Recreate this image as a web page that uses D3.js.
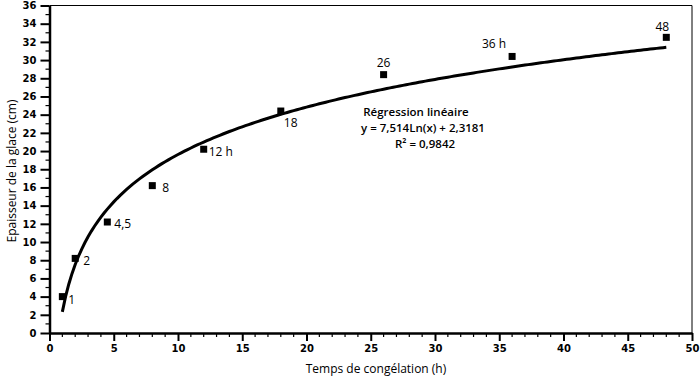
<!DOCTYPE html>
<html><head><meta charset="utf-8">
<script src="https://cdn.jsdelivr.net/npm/d3@7"></script>
<style>body{margin:0;background:#fff}svg{display:block}text{font-family:"Open Sans","DejaVu Sans",sans-serif;fill:#000}</style>
</head><body><svg id="c" width="700" height="378"></svg>
<script>
const hours = [1, 2, 4.5, 8, 12, 18, 26, 36, 48];
const thickness = [4.0, 8.2, 12.2, 16.2, 20.2, 24.4, 28.4, 30.4, 32.5];
const pointLabels = ["1", "2", "4,5", "8", "12 h", "18", "26", "36 h", "48"];
const xTicks = [0, 5, 10, 15, 20, 25, 30, 35, 40, 45, 50];
const yTicks = [0,2,4,6,8,10,12,14,16,18,20,22,24,26,28,30,32,34,36];
const regA = 7.514, regB = 2.3181;
const regText = ["Régression linéaire", "y = 7,514Ln(x) + 2,3181", "R² = 0,9842"];

const svg = d3.select("#c");
const L = 49.5, R = 692, T = 5.5, B = 333;
const x = d3.scaleLinear().domain([0, 50]).range([L, R]);
const y = d3.scaleLinear().domain([0, 36]).range([B, T]);

// frame
svg.append("line").attr("x1", L).attr("x2", R).attr("y1", T).attr("y2", T).attr("stroke", "#000").attr("stroke-width", 1);
svg.append("line").attr("x1", R).attr("x2", R).attr("y1", T).attr("y2", B).attr("stroke", "#000").attr("stroke-width", 1);

// minor ticks
const gMin = svg.append("g").attr("stroke", "#000").attr("stroke-width", 1.2);
d3.range(1, 36, 2).forEach(v => gMin.append("line").attr("x1", L - 4).attr("x2", L).attr("y1", y(v)).attr("y2", y(v)));
d3.range(0, 51, 1).filter(v => v % 5 !== 0).forEach(v => gMin.append("line").attr("x1", x(v)).attr("x2", x(v)).attr("y1", B).attr("y2", B + 4));

// axes
const xAxis = d3.axisBottom(x).tickValues(xTicks).tickSize(8).tickSizeOuter(0).tickPadding(4);
const yAxis = d3.axisLeft(y).tickValues(yTicks).tickSize(9).tickSizeOuter(0).tickPadding(4);
const gx = svg.append("g").attr("transform", `translate(0,${B})`).call(xAxis);
const gy = svg.append("g").attr("transform", `translate(${L},0)`).call(yAxis);
[gx, gy].forEach(g => {
  g.select(".domain").attr("stroke", "#000").attr("stroke-width", 2.5);
  g.selectAll(".tick line").attr("stroke", "#000").attr("stroke-width", 2);
  g.selectAll(".tick text").style("font-family", "'DejaVu Sans',sans-serif").attr("font-size", 10).attr("font-weight", "bold").attr("fill", "#000");
});

// regression curve
const curveX = d3.range(1, 48.01, 0.25);
svg.append("path")
  .datum(curveX)
  .attr("fill", "none").attr("stroke", "#000").attr("stroke-width", 3)
  .attr("d", d3.line().x(d => x(d)).y(d => y(regA * Math.log(d) + regB)));

// points
const pts = hours.map((h, i) => ({h, t: thickness[i], lab: pointLabels[i], i}));
svg.selectAll("rect.pt").data(pts).enter().append("rect")
  .attr("x", d => x(d.h) - 3.5).attr("y", d => y(d.t) - 3.5).attr("width", 7).attr("height", 7).attr("fill", "#000");

const labOff = [[6, 7], [8, 7], [7, 6], [10, 6], [5, 7], [3, 16], [0, -8], [-18, -8], [-4, -6]];
const labAnchor = ["start","start","start","start","start","start","middle","middle","middle"];
svg.selectAll("text.pl").data(pts).enter().append("text")
  .attr("x", d => x(d.h) + labOff[d.i][0]).attr("y", d => y(d.t) + labOff[d.i][1])
  .attr("text-anchor", d => labAnchor[d.i])
  .attr("font-size", 12).style("fill", "#000").text(d => d.lab);

// regression text
const rt = svg.append("g").attr("font-size", 11.5).attr("font-weight", 600).attr("text-anchor", "middle");
rt.append("text").attr("x", 416).attr("y", 116).text(regText[0]);
rt.append("text").attr("x", 423).attr("y", 132).text(regText[1]);
rt.append("text").attr("x", 425).attr("y", 148).text(regText[2]);

// axis titles
svg.append("text").attr("x", 376).attr("y", 373).attr("text-anchor", "middle").attr("font-size", 12).text("Temps de congélation (h)");
svg.append("text").attr("transform", "translate(16,171) rotate(-90)").attr("text-anchor", "middle").attr("font-size", 12).text("Epaisseur de la glace (cm)");
</script></body></html>
